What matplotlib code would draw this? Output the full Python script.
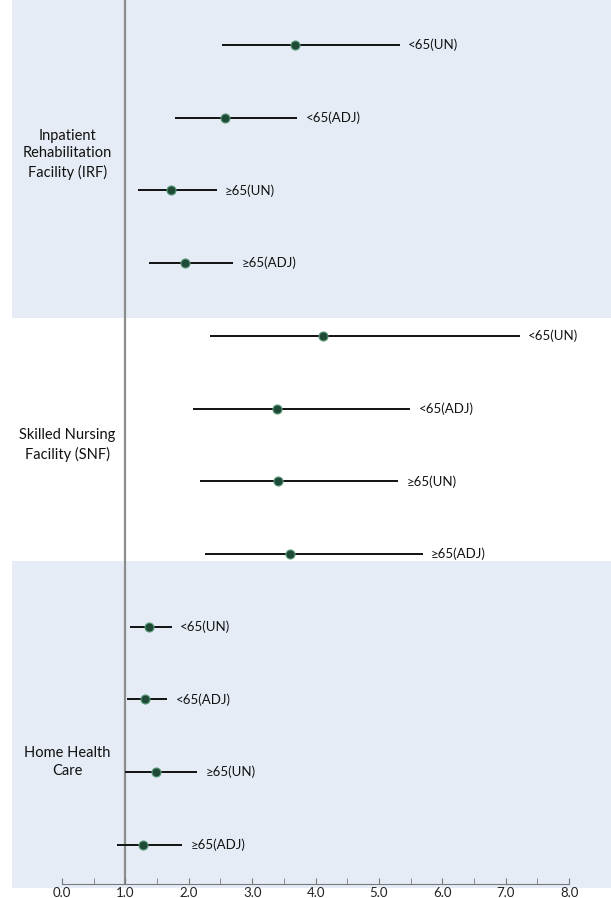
import matplotlib
matplotlib.use("Agg")
import matplotlib.pyplot as plt
import numpy as np

plt.rcParams['font.family'] = ['Lato', 'DejaVu Sans']

# groups and rows (top to bottom)
groups = ["Inpatient\nRehabilitation\nFacility (IRF)",
          "Skilled Nursing\nFacility (SNF)",
          "Home Health\nCare"]
row_labels = ["<65(UN)", "<65(ADJ)", "≥65(UN)", "≥65(ADJ)"] * 3

# odds ratio estimates and 95% CI
est = [3.67, 2.57, 1.72, 1.94,
       4.12, 3.39, 3.41, 3.60,
       1.37, 1.31, 1.48, 1.28]
lo = [2.52, 1.78, 1.20, 1.37,
      2.33, 2.07, 2.18, 2.26,
      1.07, 1.02, 1.00, 0.87]
hi = [5.33, 3.71, 2.44, 2.70,
      7.22, 5.49, 5.30, 5.69,
      1.73, 1.66, 2.13, 1.89]

x_ticks = np.arange(0, 8.01, 1.0)
x_tick_labels = ["%.1f" % t for t in x_ticks]

fig = plt.figure(figsize=(6.11, 8.98), dpi=100)
ax = fig.add_axes([12 / 611, 14 / 898, 599 / 611, 884 / 898])

band_col = "#e5ecf5"
ax.axhspan(-1, 3.75, color=band_col, zorder=0, lw=0)
ax.axhspan(7.1, 11.6, color=band_col, zorder=0, lw=0, clip_on=False)

# reference line at 1.0
ax.axvline(1.0, color="#8c8c8c", lw=1.6, zorder=1)

y = np.arange(len(est))
for i in range(len(est)):
    ax.plot([lo[i], hi[i]], [y[i], y[i]], color="#111111", lw=1.4,
            solid_capstyle="butt", zorder=2)
    ax.plot(est[i], y[i], "o", ms=6.5, mfc="#1e4a37", mec="#5c9a78",
            mew=0.8, zorder=3)
    ax.annotate(row_labels[i], (hi[i], y[i]), xytext=(6, 0),
                textcoords="offset points", va="center", ha="left",
                fontsize=9.5, color="#111111")

# group labels
group_y = [1.5, 5.5, 9.86]
for g, gy in zip(groups, group_y):
    ax.text(0.08, gy, g, ha="center", va="center", fontsize=10.5,
            color="#111111", linespacing=1.35)

ax.set_xlim(-0.789, 8.66)
ax.set_ylim(11.54, -0.62)

for s in ["top", "right", "left"]:
    ax.spines[s].set_visible(False)
ax.spines["bottom"].set_bounds(0, 8)
ax.spines["bottom"].set_color("#7a7a7a")
ax.set_yticks([])
ax.set_xticks(x_ticks)
ax.set_xticklabels(x_tick_labels, fontsize=9.5, color="#222222")
ax.set_xticks(np.arange(0.5, 8, 1.0), minor=True)
ax.tick_params(axis="x", which="both", direction="in", length=4,
               color="#7a7a7a", pad=2)

fig.savefig("out.png", dpi=100)
